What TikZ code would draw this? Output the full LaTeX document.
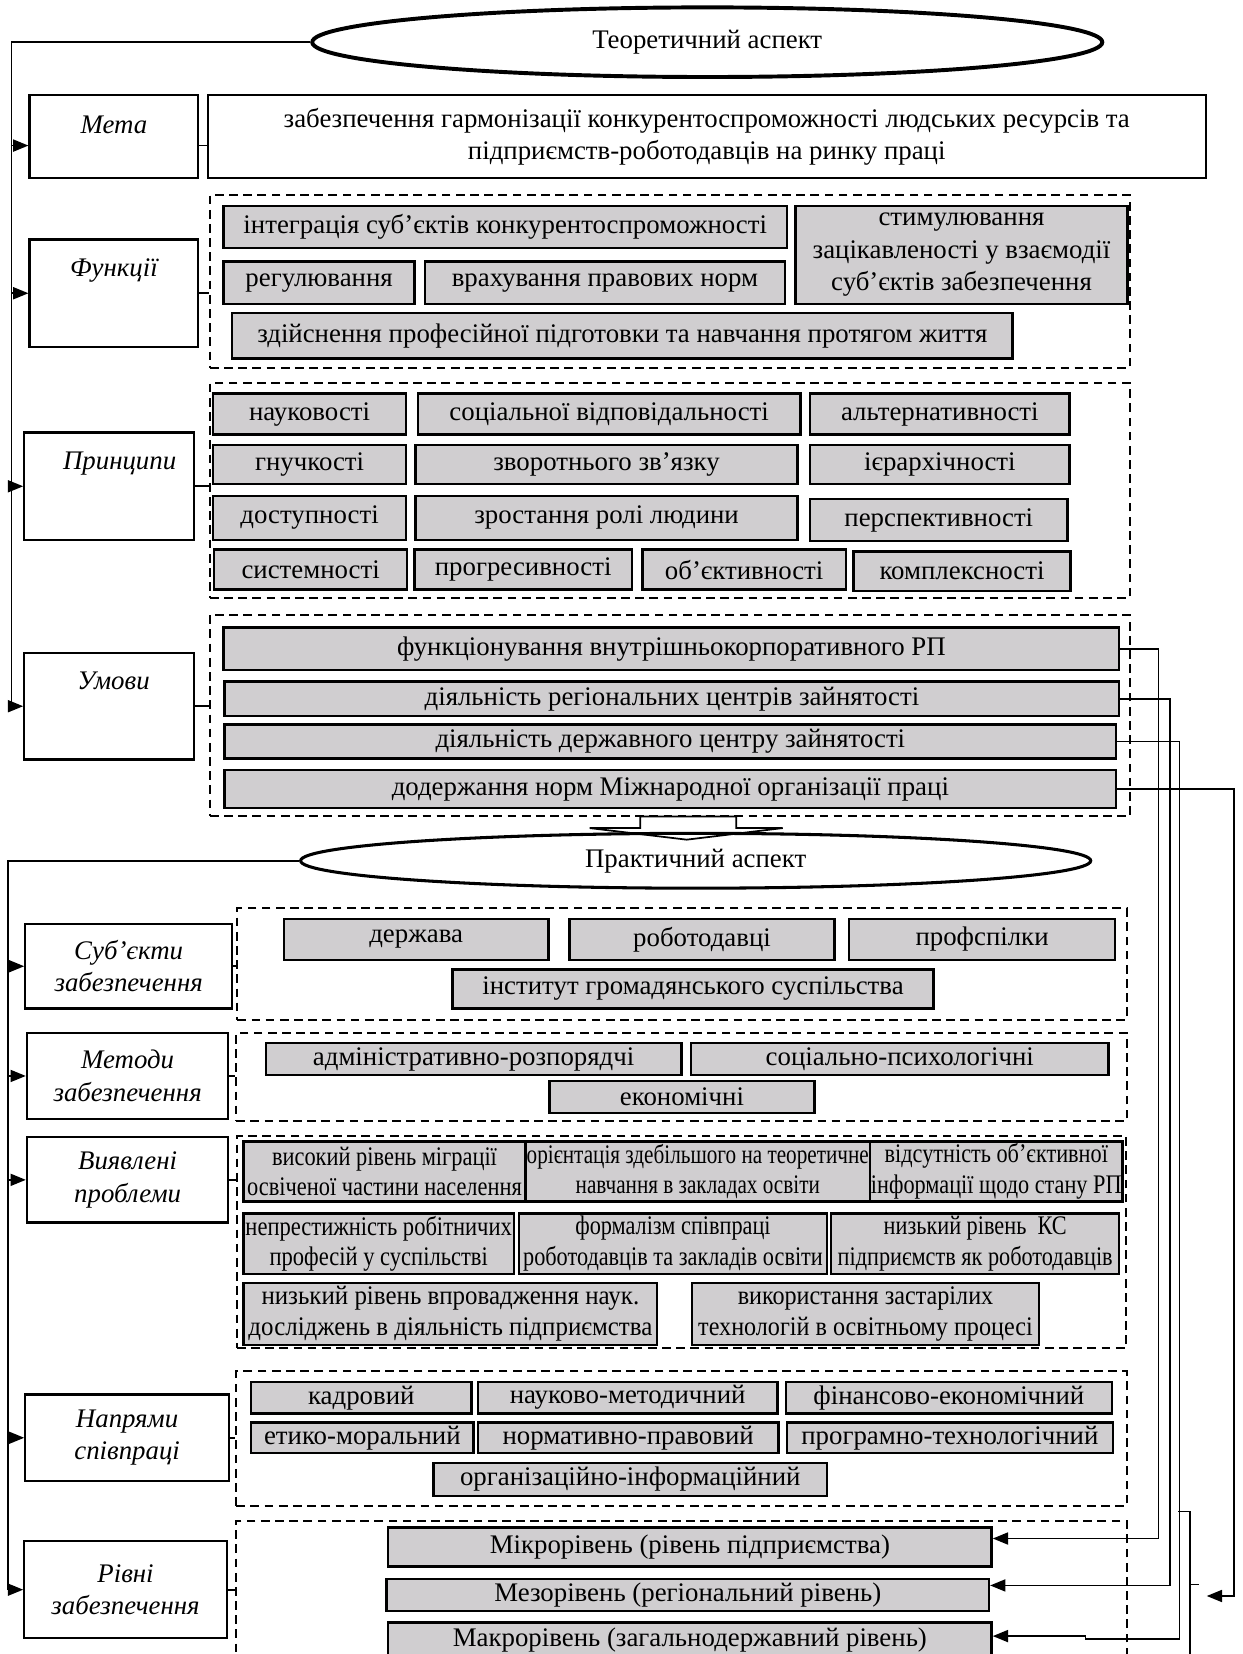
\documentclass[tikz,border=0pt]{standalone}
\usepackage{fontspec}
\setmainfont{Liberation Serif}
\usetikzlibrary{shapes,arrows.meta,calc}

\definecolor{boxgray}{RGB}{208,206,208}

\tikzset{
    sz/.style 2 args={minimum width=#1*0.017cm, minimum height=#2*0.017cm},
    aspectoval/.style={draw, ellipse, inner sep=0pt},
    lbox/.style={draw, fill=white, line width=1pt, inner sep=0pt,
        font=\fontsize{12.3}{14.8}\selectfont\itshape},
    gbox/.style={draw, fill=boxgray, line width=1.1pt, inner sep=0pt},
    grpbox/.style={draw, dash pattern=on 4pt off 2.5pt, line width=0.9pt, inner sep=0pt},
    condensed/.style={font=\fontsize{12.3}{14}\selectfont\addfontfeature{FakeStretch=#1}},
    conn/.style={line width=0.8pt}
}

\begin{document}
\begin{tikzpicture}[
        x=0.017cm, y=-0.017cm,
        every node/.style={font=\fontsize{12.3}{14.8}\selectfont, align=center},
        >={Triangle[length=7pt,width=5.5pt]}
    ]
    \useasboundingbox (0,0) rectangle (1178,1568);
    \clip (0,0) rectangle (1178,1568);

    % Theory: groups
    \node[grpbox, sz={872}{164}] (fgroup) at (635,267) {};
    \node[grpbox, sz={872}{204}] (pgroup) at (635,465) {};
    \node[grpbox, sz={872}{191}] (ugroup) at (635,678.5) {};

    % Practice: groups
    \node[grpbox, sz={843}{106}] (sgroup) at (646.5,914) {};
    \node[grpbox, sz={844}{84}] (mgroup) at (646,1021) {};
    \node[grpbox, sz={843}{201}] (prgroup) at (646,1177.5) {};
    \node[grpbox, sz={844}{128}] (dgroup) at (646,1364) {};
    \node[grpbox, sz={844}{158}] (lgroup) at (646,1521) {};

    % Label boxes
    \node[lbox, sz={160}{79}] (meta) at (108,129.5) {Мета\\[-4pt]\mbox{}};
    \node[lbox, sz={160}{102}] (funk) at (108,278) {Функції\\[4pt]\strut};
    \node[lbox, sz={161}{102}] (princ) at (103.5,461) {\hspace*{9.6pt}Принципи\\[4pt]\strut};
    \node[lbox, sz={161}{101}] (umovy) at (103.5,669.5) {\hspace*{4pt}Умови\\[4pt]\strut};
    \node[lbox, sz={196}{80}] (subj) at (122,916) {Суб’єкти\\забезпечення};
    \node[lbox, sz={191}{82}] (metod) at (121,1020) {Методи\\забезпечення};
    \node[lbox, sz={191}{81}] (probl) at (121,1118.5) {Виявлені\\проблеми};
    \node[lbox, sz={193}{82}] (napr) at (120.5,1363) {Напрями\\співпраці};
    \node[lbox, sz={192}{92}] (rivni) at (119,1507) {Рівні\\забезпечення};

    % Goal
    \node[draw, line width=1pt, sz={946}{79}] (goal) at (670,129.5)
        {забезпечення гармонізації конкурентоспроможності людських ресурсів та\\
         підприємств-роботодавців на ринку праці};

    % Functions
    \node[gbox, sz={534}{40}] (integ) at (479,215) {інтеграція суб’єктів конкурентоспроможності};
    \node[gbox, sz={315}{93}] (stimul) at (911.5,241.5) {стимулювання\\зацікавленості у взаємодії\\суб’єктів забезпечення};
    \node[gbox, sz={181}{40}] (regul) at (302.5,268) {регулювання};
    \node[gbox, sz={341}{40}] (pravo) at (573.5,268) {врахування правових норм};
    \node[gbox, sz={740}{43}] (profpid) at (590,318.5) {здійснення професійної підготовки та навчання протягом життя};

    % Principles
    \node[gbox, sz={183}{39}] (nauk) at (293.5,392.5) {науковості};
    \node[gbox, sz={363}{39}] (socvid) at (577.5,392.5) {соціальної відповідальності};
    \node[gbox, sz={246}{39}] (altern) at (891,392.5) {альтернативності};
    \node[gbox, sz={183}{37}] (gnuch) at (293.5,440.5) {гнучкості};
    \node[gbox, sz={362}{37}] (zvor) at (575,440.5) {зворотнього зв’язку};
    \node[gbox, sz={246}{37}] (ierarh) at (891,440.5) {ієрархічності};
    \node[gbox, sz={183}{42}] (dost) at (293.5,491) {доступності};
    \node[gbox, sz={362}{42}] (zrost) at (575,491) {зростання ролі людини};
    \node[gbox, sz={244}{40}] (persp) at (890,493) {перспективності};
    \node[gbox, sz={183}{38}] (system) at (294.5,540) {системності};
    \node[gbox, sz={206}{38}] (progr) at (496,540) {прогресивності};
    \node[gbox, sz={193}{38}] (obj) at (705.5,540) {об’єктивності};
    \node[gbox, sz={206}{37}] (kompl) at (912,541.5) {комплексності};

    % Conditions
    \node[gbox, sz={849}{40}] (ufunc) at (636.5,615) {функціонування внутрішньокорпоративного РП};
    \node[gbox, sz={848}{33}] (ureg) at (637,662.5) {діяльність регіональних центрів зайнятості};
    \node[gbox, sz={845}{32}] (uderzh) at (635.5,703) {діяльність державного центру зайнятості};
    \node[gbox, sz={845}{36}] (uilo) at (635.5,748) {додержання норм Міжнародної організації праці};

    % Subjects
    \node[gbox, sz={251}{39}] (derzh) at (394.5,890.5) {держава};
    \node[gbox, sz={251}{39}] (robot) at (665.5,890.5) {роботодавці};
    \node[gbox, sz={252}{39}] (profs) at (931,890.5) {профспілки};
    \node[gbox, sz={456}{37}] (instyt) at (657,937.5) {інститут громадянського суспільства};

    % Methods
    \node[gbox, sz={394}{30}] (admin) at (449,1004) {адміністративно-розпорядчі};
    \node[gbox, sz={396}{30}] (socps) at (853,1004) {соціально-психологічні};
    \node[gbox, sz={251}{30}] (econ) at (646.5,1040) {економічні};

    % Problems
    \node[gbox, condensed=0.835, sz={267}{57}] (migr) at (364.5,1110.5) {високий рівень міграції\\освіченої частини населення};
    \node[gbox, condensed=0.79, sz={327}{57}] (orient) at (661.5,1110.5) {орієнтація здебільшого на теоретичне\\навчання в закладах освіти};
    \node[gbox, condensed=0.83, sz={239}{57}] (info) at (944.5,1110.5) {відсутність об’єктивної\\інформації щодо стану РП};
    \node[gbox, condensed=0.84, sz={256}{57}] (prestyzh) at (359,1179) {непрестижність робітничих\\професій у суспільстві};
    \node[gbox, condensed=0.83, sz={292}{57}] (formal) at (638,1179) {формалізм співпраці\\роботодавців та закладів освіти};
    \node[gbox, condensed=0.83, sz={273}{57}] (lowks) at (924.5,1179) {низький рівень\ \ КС\\підприємств як роботодавців};
    \node[gbox, condensed=0.93, sz={392}{59}] (vprov) at (427,1245.5) {низький рівень впровадження наук.\\досліджень в діяльність підприємства};
    \node[gbox, condensed=0.9, sz={329}{59}] (tech) at (820.5,1245.5) {використання застарілих\\технологій в освітньому процесі};

    % Directions
    \node[gbox, sz={209}{30}] (kadr) at (342.5,1325) {кадровий};
    \node[gbox, sz={284}{30}] (naukm) at (595,1325) {науково-методичний};
    \node[gbox, sz={309}{30}] (fin) at (899.5,1325) {фінансово-економічний};
    \node[gbox, sz={211}{29}] (etyk) at (343.5,1363) {етико-моральний};
    \node[gbox, sz={285}{29}] (norm) at (595.5,1363) {нормативно-правовий};
    \node[gbox, sz={309}{29}] (progt) at (900.5,1363) {програмно-технологічний};
    \node[gbox, sz={373}{31}] (org) at (597.5,1402.5) {організаційно-інформаційний};

    % Levels
    \node[gbox, sz={572}{37}] (micro) at (654,1466.5) {Мікрорівень (рівень підприємства)};
    \node[gbox, sz={571}{30}] (meso) at (652,1512) {Мезорівень (регіональний рівень)};
    \node[gbox, sz={572}{34}] (macro) at (654,1555) {Макрорівень (загальнодержавний рівень)};

    % Block arrow between the aspects
    \draw[conn, fill=white] (607,774) -- (607,785) -- (559,785) -- (651,796)
        -- (742,785) -- (698,785) -- (698,774) -- cycle;

    % Aspects
    \node[aspectoval, line width=1.8pt, sz={749}{66}] (theory) at (670.5,40) {Теоретичний аспект};
    \node[aspectoval, line width=1.4pt, sz={749}{52}] (practice) at (659.5,816) {Практичний аспект};

    % Edges
    \coordinate (busA) at (11,40);
    \draw[conn] (theory.west) -- (busA) -- (busA |- umovy.west);
    \draw[conn,->] (busA |- 0,138) -- (meta.west |- 0,138);
    \foreach \n in {funk,princ,umovy}
        \draw[conn,->] (busA |- \n.west) -- (\n.west);

    \coordinate (busB) at (7.5,816);
    \draw[conn] (practice.west) -- (busB) -- (busB |- rivni.west);
    \foreach \n in {subj,metod,probl,napr,rivni}
        \draw[conn,->] (busB |- \n.west) -- (\n.west);

    \draw[conn] (meta.east |- 0,138) -- (goal.west |- 0,138);
    \foreach \a/\b in {funk/fgroup,princ/pgroup,umovy/ugroup,subj/sgroup,metod/mgroup,probl/prgroup,napr/dgroup,rivni/lgroup}
        \draw[conn] (\a.east) -- (\a.east -| \b.west);

    \draw[conn,->] (ufunc.east) -- ++(36,0) |- ($(micro.east)+(0,-8)$);
    \draw[conn,->] (ureg.east) -- ++(47,0) |- ($(meso.east)+(0,-9)$);
    \draw[conn,->] (uderzh.east) -- ++(59,0) |- ($(macro.east)+(88,-1)$) -- ++(0,-3) -- ($(macro.east)+(0,-4)$);
    \coordinate (bracetip) at (1144,1513);
    \draw[conn,->] (uilo.east) -- ++(111,0) |- (bracetip);
    \draw[conn] (1117,1433) -- (1128,1433) -- (1128,1600) (1128,1502) -- (1137,1502);

\end{tikzpicture}
\end{document}
